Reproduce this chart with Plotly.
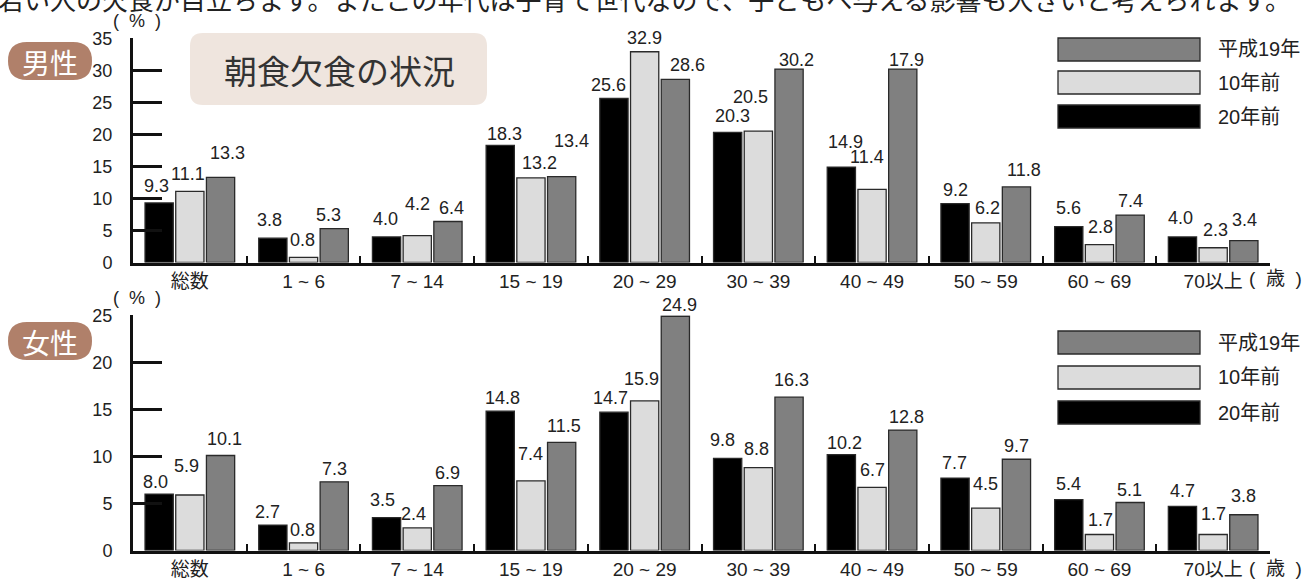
import plotly.graph_objects as go

W, H = 1305, 579

categories = ["総数", "1 ~ 6", "7 ~ 14", "15 ~ 19", "20 ~ 29",
              "30 ~ 39", "40 ~ 49", "50 ~ 59", "60 ~ 69", "70以上"]
series_names = ["20年前", "10年前", "平成19年"]
legend_order = ["平成19年", "10年前", "20年前"]

# printed values (labels)
male_20 = [9.3, 3.8, 4.0, 18.3, 25.6, 20.3, 14.9, 9.2, 5.6, 4.0]
male_10 = [11.1, 0.8, 4.2, 13.2, 32.9, 20.5, 11.4, 6.2, 2.8, 2.3]
male_h19 = [13.3, 5.3, 6.4, 13.4, 28.6, 30.2, 17.9, 11.8, 7.4, 3.4]
# bar heights as drawn in the source (one bar differs from its label)
male_h19_bar = [13.3, 5.3, 6.4, 13.4, 28.6, 30.2, 30.2, 11.8, 7.4, 3.4]

female_20 = [8.0, 2.7, 3.5, 14.8, 14.7, 9.8, 10.2, 7.7, 5.4, 4.7]
female_20_bar = [6.0, 2.7, 3.5, 14.8, 14.7, 9.8, 10.2, 7.7, 5.4, 4.7]
female_10 = [5.9, 0.8, 2.4, 7.4, 15.9, 8.8, 6.7, 4.5, 1.7, 1.7]
female_h19 = [10.1, 7.3, 6.9, 11.5, 24.9, 16.3, 12.8, 9.7, 5.1, 3.8]

male_ticks = [0, 5, 10, 15, 20, 25, 30, 35]
female_ticks = [0, 5, 10, 15, 20, 25]

# --- styling only: label nudges in pixels (dx, dy) per series ---
male_dx = [[-3, -3, -1, 4, -5, 5, 4, 0, 0, -2],
           [-2, -1, 0, 9, 0, -8, -5, 2, 1, 2],
           [7, -6, 4, 10, 12, 7, 4, 8, 0, 1]]
male_dy = [[17, 18, 18, 11, 14, 16, 25, 14, 19, 19],
           [17, 17, 32, 15, 14, 34, 32, 15, 18, 18],
           [24, 14, 13, 36, 14, 9, 9, 17, 14, 21]]
female_dx = [[-4, -5, -4, 2, -3, -5, 3, -1, 0, 0],
             [-3, -1, -4, 0, -3, -2, 0, 0, 1, 0],
             [4, 0, 0, 2, 4, 2, 4, 0, -1, 0]]
female_dy = [[12, 13, 18, 13, 14, 18, 12, 15, 16, 15],
             [29, 13, 14, 27, 22, 19, 17, 24, 15, 21],
             [16, 13, 13, 16, 11, 17, 13, 13, 13, 19]]

colors = {"20年前": "#000000", "10年前": "#dcdcdc", "平成19年": "#808080"}

LAT = "Liberation Sans, Arial, Noto Sans CJK JP, sans-serif"
CJK = "Noto Sans CJK JP, Liberation Sans, sans-serif"

X0, X1 = 133, 1270
BARGAP, GROUPGAP = 0.19, 0.08
slot = (X1 - X0) / len(categories) * (1 - BARGAP) / 3


def px(x):
    return x / W


def py(y):
    return 1 - y / H


fig = go.Figure()
annotations = []

panels = [
    ("x", "y", [(male_20, male_20), (male_10, male_10), (male_h19_bar, male_h19)], male_dx, male_dy),
    ("x2", "y2", [(female_20_bar, female_20), (female_10, female_10), (female_h19, female_h19)],
     female_dx, female_dy),
]
for xa, ya, data, dxs, dys in panels:
    for k, (name, (bars, labels)) in enumerate(zip(series_names, data)):
        fig.add_trace(go.Bar(
            x=categories, y=bars, name=name, xaxis=xa, yaxis=ya,
            marker=dict(color=colors[name], line=dict(color="#2a2a2a", width=1.3)),
            showlegend=False,
        ))
        for i, (c, b, v) in enumerate(zip(categories, bars, labels)):
            annotations.append(dict(
                xref=xa, yref=ya, x=c, y=b, text=f"{v:.1f}", showarrow=False,
                xanchor="center", yanchor="middle",
                xshift=(k - 1) * slot + dxs[k][i], yshift=dys[k][i],
                font=dict(family=LAT, size=18, color="#222222"),
            ))

xdom = [px(X0), px(X1)]
xcommon = dict(type="category", domain=xdom, showline=True, linewidth=3, linecolor="#111",
               ticks="inside", tickson="boundaries", ticklen=7, tickwidth=2, tickcolor="#111",
               showgrid=False, zeroline=False, automargin=False,
               tickfont=dict(family=LAT, size=19, color="#222"))
ycommon = dict(showline=True, linewidth=3, linecolor="#111", ticks="inside", ticklen=29,
               tickwidth=3, tickcolor="#111", showgrid=False, zeroline=False, automargin=False,
               ticklabelstandoff=14, tickfont=dict(family=LAT, size=18, color="#222"))

fig.update_layout(
    width=W, height=H, autosize=False,
    margin=dict(l=0, r=0, t=0, b=0, pad=0),
    paper_bgcolor="white", plot_bgcolor="white",
    barmode="group", bargap=BARGAP, bargroupgap=GROUPGAP,
    xaxis=dict(anchor="y", **xcommon),
    yaxis=dict(anchor="x", domain=[py(262.5), py(38.3)], range=[0, 35],
               tickvals=male_ticks, **ycommon),
    xaxis2=dict(anchor="y2", **xcommon),
    yaxis2=dict(anchor="x2", domain=[py(550.5), py(315.3)], range=[0, 25],
                tickvals=female_ticks, **ycommon),
)


def rrect(x0, y0, x1, y1, r):
    X, Y = px, py
    return (f"M {X(x0 + r)},{Y(y0)} L {X(x1 - r)},{Y(y0)} Q {X(x1)},{Y(y0)} {X(x1)},{Y(y0 + r)} "
            f"L {X(x1)},{Y(y1 - r)} Q {X(x1)},{Y(y1)} {X(x1 - r)},{Y(y1)} "
            f"L {X(x0 + r)},{Y(y1)} Q {X(x0)},{Y(y1)} {X(x0)},{Y(y1 - r)} "
            f"L {X(x0)},{Y(y0 + r)} Q {X(x0)},{Y(y0)} {X(x0 + r)},{Y(y0)} Z")


shapes = []

# title box
shapes.append(dict(type="path", xref="paper", yref="paper", path=rrect(190, 33, 487, 105, 13),
                   fillcolor="#efe5de", line=dict(width=0), layer="below"))
annotations.append(dict(xref="paper", yref="paper", x=px(339), y=py(70), text="朝食欠食の状況",
                        showarrow=False, xanchor="center", yanchor="middle",
                        font=dict(family=CJK, size=33, color="#333333")))

# badges
for label, y0, y1 in [("男性", 42, 80), ("女性", 322, 360)]:
    shapes.append(dict(type="path", xref="paper", yref="paper", path=rrect(8, y0, 92, y1, 19),
                       fillcolor="#b0806a", line=dict(width=0)))
    annotations.append(dict(xref="paper", yref="paper", x=px(50), y=py((y0 + y1) / 2 + 1),
                            text=label, showarrow=False, xanchor="center", yanchor="middle",
                            font=dict(family=CJK, size=28, color="white")))

NB = "\u00a0"
# (%) labels
for yc in [21, 298]:
    annotations.append(dict(xref="paper", yref="paper", x=px(111), y=py(yc),
                            text=f"({NB}{NB}%{NB}{NB})",
                            showarrow=False, xanchor="left", yanchor="middle",
                            font=dict(family=LAT, size=18, color="#222")))

# (歳) labels
for yc in [278, 568]:
    annotations.append(dict(xref="paper", yref="paper", x=px(1247), y=py(yc),
                            text=f"({NB}{NB}歳{NB}{NB})",
                            showarrow=False, xanchor="left", yanchor="middle",
                            font=dict(family=LAT, size=19, color="#222")))

# legends (drawn as boxes)
for tops in [[38, 71, 105], [331, 366, 401]]:
    for name, t in zip(legend_order, tops):
        shapes.append(dict(type="rect", xref="paper", yref="paper",
                           x0=px(1058), x1=px(1200), y0=py(t), y1=py(t + 23),
                           fillcolor=colors[name], line=dict(color="#2a2a2a", width=1.3)))
        annotations.append(dict(xref="paper", yref="paper", x=px(1216), y=py(t + 11.5),
                                text=name, showarrow=False, xanchor="left", yanchor="middle",
                                font=dict(family=LAT, size=20, color="#222")))

# cut-off sentence at the top edge
annotations.append(dict(xref="paper", yref="paper", x=px(1293), y=py(-1.5),
                        text="若い人の欠食が目立ちます。またこの年代は子育て世代なので、子どもへ与える影響も大きいと考えられます。",
                        showarrow=False, xanchor="right", yanchor="middle",
                        font=dict(family=CJK, size=26, color="#222")))

fig.update_layout(shapes=shapes, annotations=annotations)

fig.write_html("out.html",
               post_script="document.documentElement.style.margin='0';"
                           "document.body.style.margin='0';"
                           "document.body.style.overflow='hidden';")
